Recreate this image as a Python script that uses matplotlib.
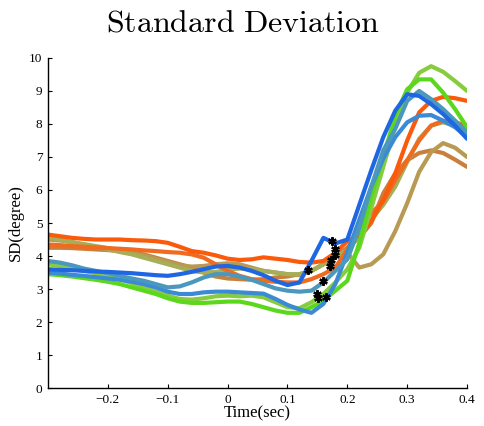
import numpy as np
import matplotlib.pyplot as plt

plt.rcParams['mathtext.fontset'] = 'cm'

# time axis (sec), one sample every 20 ms
time_sec = np.round(np.arange(-0.30, 0.4001, 0.02), 2)

sd_orange_red = [4.65, 4.60, 4.55, 4.52, 4.50, 4.50, 4.50, 4.48, 4.47, 4.45, 4.40, 4.28,
                 4.15, 4.10, 4.02, 3.92, 3.88, 3.90, 3.96, 3.92, 3.88, 3.82, 3.80, 3.85,
                 4.10, 4.45, 4.62, 5.05, 5.70, 6.50, 7.50, 8.35, 8.70, 8.82, 8.78, 8.70]
sd_orange = [4.35, 4.33, 4.30, 4.28, 4.26, 4.24, 4.22, 4.20, 4.17, 4.15, 4.12, 4.10,
             4.05, 3.95, 3.75, 3.55, 3.40, 3.30, 3.25, 3.22, 3.20, 3.20, 3.30, 3.45,
             3.65, 4.20, 4.90, 5.30, 5.65, 6.30, 6.90, 7.50, 7.95, 8.10, 8.05, 7.95]
sd_brown = [4.25, 4.25, 4.24, 4.22, 4.20, 4.18, 4.15, 4.10, 4.05, 3.95, 3.85, 3.75,
            3.65, 3.50, 3.38, 3.32, 3.30, 3.28, 3.30, 3.35, 3.38, 3.45, 3.55, 3.75,
            4.00, 4.25, 4.55, 5.00, 5.90, 6.50, 6.90, 7.12, 7.20, 7.12, 6.92, 6.70]
sd_olive = [4.55, 4.50, 4.42, 4.35, 4.28, 4.20, 4.12, 4.05, 3.95, 3.85, 3.75, 3.65,
            3.55, 3.50, 3.52, 3.58, 3.62, 3.60, 3.55, 3.50, 3.45, 3.45, 3.55, 3.75,
            3.95, 4.20, 4.60, 5.10, 5.55, 6.10, 6.85, 7.55, 7.95, 8.05, 7.95, 7.75]
sd_tan = [4.50, 4.47, 4.42, 4.36, 4.30, 4.24, 4.18, 4.10, 4.02, 3.92, 3.82, 3.72,
          3.68, 3.70, 3.75, 3.78, 3.75, 3.65, 3.55, 3.50, 3.45, 3.42, 3.55, 3.75,
          4.05, 4.10, 3.65, 3.75, 4.05, 4.75, 5.60, 6.55, 7.15, 7.42, 7.28, 7.00]
sd_teal = [3.85, 3.80, 3.72, 3.62, 3.55, 3.48, 3.40, 3.32, 3.25, 3.15, 3.05, 3.08,
           3.20, 3.35, 3.45, 3.45, 3.38, 3.28, 3.15, 3.02, 2.95, 2.92, 2.95, 3.20,
           3.55, 3.90, 4.85, 6.10, 7.20, 7.85, 8.70, 9.00, 8.75, 8.45, 8.10, 7.75]
sd_blue = [3.60, 3.58, 3.57, 3.55, 3.53, 3.52, 3.50, 3.48, 3.45, 3.42, 3.40, 3.45,
           3.52, 3.60, 3.68, 3.70, 3.65, 3.55, 3.42, 3.25, 3.12, 3.20, 3.85, 4.55,
           4.38, 4.50, 5.55, 6.60, 7.60, 8.40, 8.90, 8.85, 8.60, 8.30, 7.95, 7.55]
sd_skyblue = [3.50, 3.47, 3.43, 3.40, 3.36, 3.32, 3.28, 3.22, 3.15, 3.05, 2.92, 2.85,
              2.85, 2.90, 2.92, 2.92, 2.90, 2.88, 2.86, 2.70, 2.52, 2.38, 2.28, 2.55,
              3.15, 4.10, 5.10, 6.10, 6.95, 7.60, 8.05, 8.25, 8.27, 8.10, 7.90, 7.60]
sd_green = [3.45, 3.42, 3.38, 3.33, 3.28, 3.22, 3.15, 3.05, 2.95, 2.85, 2.72, 2.62,
            2.58, 2.58, 2.60, 2.62, 2.62, 2.55, 2.45, 2.35, 2.28, 2.28, 2.45, 2.65,
            2.95, 3.25, 4.40, 5.80, 7.00, 8.25, 9.05, 9.35, 9.35, 8.95, 8.45, 7.90]
sd_lime = [3.75, 3.70, 3.62, 3.55, 3.48, 3.40, 3.30, 3.18, 3.05, 2.92, 2.80, 2.70,
           2.68, 2.72, 2.78, 2.80, 2.78, 2.80, 2.75, 2.60, 2.45, 2.42, 2.60, 2.85,
           3.20, 3.60, 4.25, 5.45, 6.70, 7.95, 8.95, 9.55, 9.75, 9.58, 9.30, 9.00]

# onset markers
onset_t = [0.134, 0.149, 0.151, 0.164, 0.159, 0.171, 0.173, 0.179, 0.179, 0.174]
onset_sd = [3.58, 2.85, 2.73, 2.76, 3.24, 3.70, 3.88, 4.03, 4.21, 4.45]

series = [
    (sd_brown, '#C8803C'),
    (sd_tan, '#B89A52'),
    (sd_olive, '#A6AE58'),
    (sd_orange, '#F06A20'),
    (sd_orange_red, '#FA5A0A'),
    (sd_lime, '#86CC3E'),
    (sd_green, '#5CD81C'),
    (sd_skyblue, '#3A8AD5'),
    (sd_teal, '#4A98BE'),
    (sd_blue, '#1F66E3'),
]

fig = plt.figure(figsize=(4.85, 4.26), dpi=100)
ax = fig.add_axes([0.099, 0.089, 0.864, 0.775])

for values, color in series:
    ax.plot(time_sec, values, color=color, lw=3, solid_capstyle='round',
            solid_joinstyle='round')

ax.plot(onset_t, onset_sd, linestyle='none', marker=(6, 2, 0), color='black',
        markersize=6, markeredgewidth=1.6)

ax.set_xlim(-0.3, 0.4)
ax.set_ylim(0, 10)
ax.set_xticks([-0.2, -0.1, 0, 0.1, 0.2, 0.3, 0.4])
ax.set_xticklabels(['\u22120.2', '\u22120.1', '0', '0.1', '0.2', '0.3', '0.4'])
ax.set_yticks(range(0, 11))

for side in ['top', 'right']:
    ax.spines[side].set_visible(False)
for side in ['left', 'bottom']:
    ax.spines[side].set_linewidth(1.0)

ax.tick_params(direction='in', length=3, width=0.8, labelsize=9.5, pad=4)
for lbl in ax.get_xticklabels() + ax.get_yticklabels():
    lbl.set_family('Liberation Serif')

ax.set_xlabel('Time(sec)', family='Liberation Serif', fontsize=12, labelpad=0)
ax.set_ylabel('SD(degree)', family='Liberation Serif', fontsize=12, labelpad=4)
ax.set_title(r'$\mathrm{Standard\ Deviation}$', fontsize=23, pad=19, x=0.464)

fig.savefig('out.png', dpi=100)
